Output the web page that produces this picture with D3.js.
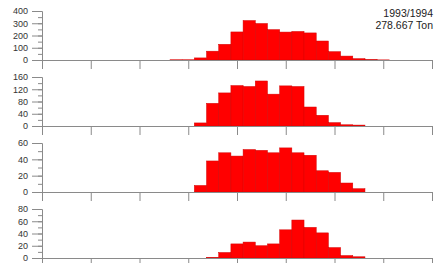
<!DOCTYPE html>
<html>
<head>
<meta charset="utf-8">
<script src="https://cdn.jsdelivr.net/npm/d3@7"></script>
<style>
  body { margin:0; background:#fff; }
  text { font-family: "Liberation Sans", Arial, sans-serif; }
</style>
</head>
<body>
<div class="hist-container"></div>
<script>
// length classes (bin centres on the x scale)
var classes = [11,12,13,14,15,16,17,18,19,20,21,22,23,24,25,26,27,28];

// catch per class, one series per panel (0 = not present)
var panel1 = [2,2,17,72,128,229,322,298,248,228,233,221,155,68,32,11,3,1];
var panel2 = [0,0,10,74,108,132,129,147,104,131,129,62,35,11,4,3,0,0];
var panel3 = [0,0,8,38,48,44,52,51,48,54,48,45,26,24,11,4,0,0];
var panel4 = [0,0,0,1,9,23,26,20,23,46,62,50,41,17,4,2,0,0];

var yMax = [400, 160, 60, 80];
var yStep = [100, 40, 20, 20];
var xTicks = [0,4,8,12,16,20,24,28,32];

var title = ["1993/1994", "278.667 Ton"];

var width = 442, height = 263;
var series = [panel1, panel2, panel3, panel4];

var svg = d3.select(".hist-container")
  .append("svg")
  .attr("width", width)
  .attr("height", height);

var x = d3.scaleLinear().domain([0, 32]).range([42, 432]);
var barW = x(1) - x(0);

series.forEach(function(vals, i) {
  var top = 11 + i*66;
  var h = 49;
  var y = d3.scaleLinear().domain([0, yMax[i]]).range([top + h, top]);

  var g = svg.append("g");

  var data = classes.map(function(c, j) { return {k:c, v:vals[j]}; })
    .filter(function(d) { return d.v > 0; });

  g.selectAll("rect")
    .data(data)
    .enter()
    .append("rect")
    .attr("x", function(d) { return x(d.k - 0.5); })
    .attr("width", barW)
    .attr("y", function(d) { return y(d.v); })
    .attr("height", function(d) { return y(0) - y(d.v); })
    .attr("fill", "#ff0000")
    .attr("stroke", "#d40000")
    .attr("stroke-width", 0.5);

  // minor y ticks
  var minor = d3.range(0, yMax[i] + 0.001, yStep[i]/2);
  g.append("g")
    .attr("transform", "translate(42,0)")
    .call(d3.axisLeft(y).tickValues(minor).tickSize(4).tickFormat("").tickSizeOuter(0));

  // major y ticks
  g.append("g")
    .attr("class", "yax")
    .attr("transform", "translate(42,0)")
    .call(d3.axisLeft(y).tickValues(d3.range(0, yMax[i] + 0.001, yStep[i]))
      .tickSize(10).tickPadding(4).tickSizeOuter(0).tickFormat(d3.format("d")));

  // x axis, no labels
  g.append("g")
    .attr("transform", "translate(0," + y(0) + ")")
    .call(d3.axisBottom(x).tickValues(xTicks).tickSize(9).tickFormat("").tickSizeOuter(0));
});

svg.selectAll(".domain, .tick line")
  .attr("stroke", "#8a8a8a");
svg.selectAll(".tick text")
  .attr("font-size", "9px")
  .attr("fill", "#333");

svg.selectAll(".title")
  .data(title)
  .enter()
  .append("text")
  .attr("class", "title")
  .attr("x", 433)
  .attr("y", function(d, i) { return 17 + i*12; })
  .attr("text-anchor", "end")
  .attr("font-size", "10.5px")
  .attr("fill", "#222")
  .text(function(d) { return d; });
</script>
</body>
</html>
